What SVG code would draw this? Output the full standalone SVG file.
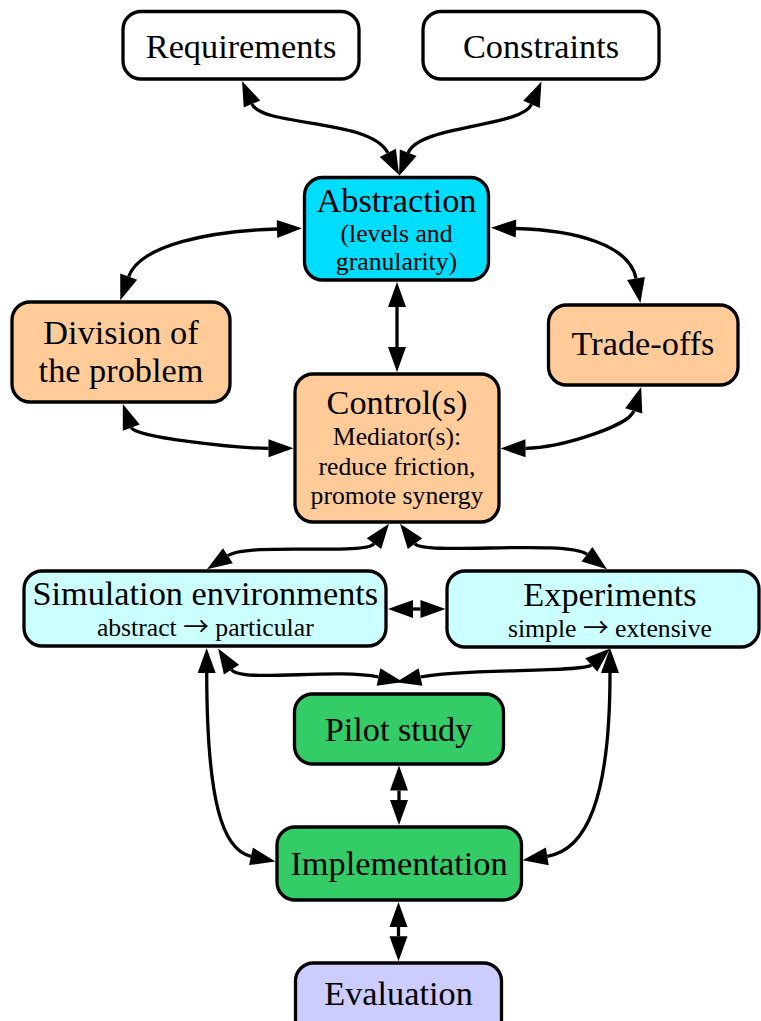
<svg xmlns="http://www.w3.org/2000/svg" width="761" height="1021" viewBox="0 0 761 1021">
<defs>
<marker id="ah" viewBox="0 0 25 18" refX="0" refY="9" markerWidth="25" markerHeight="18" markerUnits="userSpaceOnUse" orient="auto-start-reverse" overflow="visible">
<path d="M0,0 L25,9 L0,18 Z" fill="#000"/>
</marker>
<style>
.box{stroke:#000;stroke-width:3.3}
.t{font-family:"Liberation Serif","Times New Roman",serif;fill:#000;text-anchor:middle}
.big{font-size:34.3px}
.small{font-size:25.7px}
.arr{font-family:"Noto Sans CJK JP","Liberation Serif",sans-serif}
.white{fill:#fff}
.cyan{fill:#00ddff}
.peach{fill:#ffcc99}
.lcyan{fill:#ccffff}
.green{fill:#33cc66}
.lav{fill:#ccccff}
.e{fill:none;stroke:#000;stroke-width:3.3;marker-start:url(#ah);marker-end:url(#ah)}
</style>
</defs>
<rect width="761" height="1021" fill="#fff"/>
<g id="connectors">
<path class="e" d="M252,104 C262,127 370,118 387.8,152.8"/>
<path class="e" d="M531.5,104.4 C521.5,127.3 419.2,124.9 408.2,152.8"/>
<path class="e" d="M277,229 C210,231 140,245 128.7,276.6"/>
<path class="e" d="M516,228.5 C575,230 630,245 636,278.5"/>
<path class="e" d="M397,307 L397,347"/>
<path class="e" d="M131.3,427.6 C134.7,437 234,448.3 268.5,448.3"/>
<path class="e" d="M633.7,410.9 C629,426 560,448 525.5,448.3"/>
<path class="e" d="M374,543.7 C365,555.7 248.8,542.1 227.9,555.7"/>
<path class="e" d="M415,543.7 C424,555.7 567,539.3 587,554.3"/>
<path class="e" d="M413,609 L420.5,609"/>
<path class="e" d="M231.5,669.6 C240,683 335,668 378.5,677"/>
<path class="e" d="M591.3,665 C582.3,672.9 462,668 420.5,677"/>
<path class="e" d="M206.7,673 C207,800 222,850 251,856.3"/>
<path class="e" d="M610,673 C610,800 586,850 547.3,856.3"/>
<path class="e" d="M399,790.6 L399,800"/>
<path class="e" d="M398.5,927 L398.5,936.3"/>
</g>
<g id="requirements">
<rect class="box white" x="123" y="11.5" width="236" height="67.5" rx="18"/>
<text class="t big" x="241" y="58">Requirements</text>
</g>
<g id="constraints">
<rect class="box white" x="423" y="11.5" width="236" height="67.5" rx="18"/>
<text class="t big" x="541" y="58">Constraints</text>
</g>
<g id="abstraction">
<rect class="box cyan" x="304.5" y="177.5" width="184" height="102.5" rx="18"/>
<text class="t big" x="396.5" y="212">Abstraction</text>
<text class="t small" x="396.5" y="242">(levels and</text>
<text class="t small" x="396.5" y="270">granularity)</text>
</g>
<g id="division">
<rect class="box peach" x="12" y="302" width="218" height="100" rx="18"/>
<text class="t big" x="121" y="344">Division of</text>
<text class="t big" x="121" y="381.7">the problem</text>
</g>
<g id="tradeoffs">
<rect class="box peach" x="548.5" y="305" width="189.5" height="80" rx="18"/>
<text class="t big" x="643" y="355">Trade-offs</text>
</g>
<g id="control">
<rect class="box peach" x="295" y="374" width="204" height="148" rx="18"/>
<text class="t big" x="397" y="414.3">Control(s)</text>
<text class="t small" x="397" y="445">Mediator(s):</text>
<text class="t small" x="397" y="475">reduce friction,</text>
<text class="t small" x="397" y="503.5">promote synergy</text>
</g>
<g id="simulation">
<rect class="box lcyan" x="24" y="571" width="362" height="75" rx="18"/>
<text class="t big" x="205.3" y="605">Simulation environments</text>
<text class="t small" x="205.3" y="636">abstract <tspan class="arr">→</tspan> particular</text>
</g>
<g id="experiments">
<rect class="box lcyan" x="447" y="571" width="312" height="76" rx="18"/>
<text class="t big" x="610" y="606">Experiments</text>
<text class="t small" x="610" y="636.5">simple <tspan class="arr">→</tspan> extensive</text>
</g>
<g id="pilot">
<rect class="box green" x="294.5" y="694" width="209" height="70" rx="18"/>
<text class="t big" x="398.5" y="741">Pilot study</text>
</g>
<g id="implementation">
<rect class="box green" x="277" y="827" width="244.5" height="73" rx="18"/>
<text class="t big" x="399" y="875">Implementation</text>
</g>
<g id="evaluation">
<rect class="box lav" x="295.5" y="963" width="206" height="75" rx="18"/>
<text class="t big" x="398.5" y="1005">Evaluation</text>
</g>
</svg>
